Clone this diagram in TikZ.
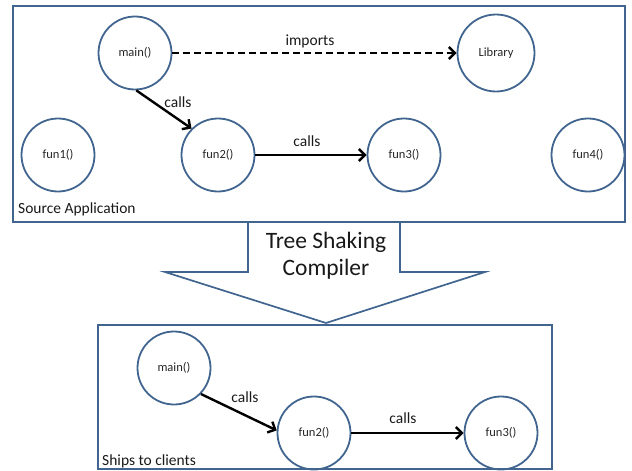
\documentclass[tikz,border=0pt]{standalone}
\usepackage{fontspec}
\setmainfont{Carlito}
\usetikzlibrary{arrows.meta}
\definecolor{edgeblue}{HTML}{41658F}
\tikzset{
  x=1pt, y=-1pt,
  fn/.style={circle, draw=edgeblue, line width=1.8pt, minimum size=73pt, inner sep=0pt,
    font=\fontsize{12.5}{14}\selectfont, text=black!85},
  frame/.style={draw=edgeblue, line width=1.7pt},
  lbl/.style={font=\fontsize{15.5}{18}\selectfont, text=black!90, inner sep=0pt},
  callarrow/.style={line width=2.4pt, -{Straight Barb[length=6pt,width=12pt,line width=2.4pt]}},
}
\begin{document}
\begin{tikzpicture}
\useasboundingbox (0,0) rectangle (632,471);
% compiler arrow
\draw[frame, line join=miter] (248,222) -- (248,272) -- (165,272) -- (326,323) -- (485,272) -- (400,272) -- (400,222);
\node[font=\fontsize{23.5}{28}\selectfont, text=black!90, align=center, inner sep=0pt] (tsc) at (326,256) {Tree Shaking\\[-1pt]Compiler};
% frames
\draw[frame] (13,6) rectangle (625,222);
\draw[frame] (98,325) rectangle (552,469);
% top nodes
\node[fn] (main) at (135,53) {main()};
\node[fn, minimum size=77pt] (lib) at (496,53) {Library};
\node[fn] (fun1) at (58,155) {fun1()};
\node[fn] (fun2) at (218,155) {fun2()};
\node[fn] (fun3) at (404,155) {fun3()};
\node[fn] (fun4) at (588,155) {fun4()};
\draw[callarrow, dash pattern=on 7pt off 4pt] (main.east) -- (lib.west);
\draw[callarrow] (main.-88) -- (fun2.135);
\draw[callarrow] (fun2.east) -- (fun3.west);
\node[lbl] (limp) at (310,41) {imports};
\node[lbl] (lc1) at (178,102) {calls};
\node[lbl] (lc2) at (307,141) {calls};
\node[lbl, anchor=west] (src) at (18,209) {Source Application};
% bottom nodes
\node[fn] (bmain) at (174,368) {main()};
\node[fn] (bfun2) at (314,433) {fun2()};
\node[fn] (bfun3) at (501,433) {fun3()};
\draw[callarrow] (bmain.-44) -- (bfun2.176);
\draw[callarrow] (bfun2.east) -- (bfun3.west);
\node[lbl] (lc3) at (245,397) {calls};
\node[lbl] (lc4) at (403,418) {calls};
\node[lbl, anchor=west] (ships) at (102,461) {Ships to clients};
\end{tikzpicture}
\end{document}
